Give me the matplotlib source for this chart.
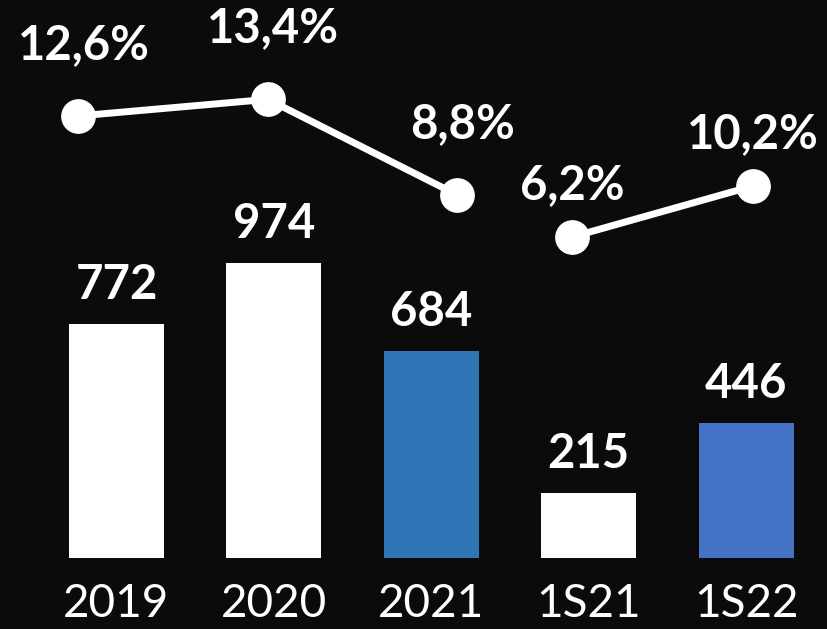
import matplotlib
matplotlib.use("Agg")
import matplotlib.pyplot as plt

# dados do gráfico
categorias = ["2019", "2020", "2021", "1S21", "1S22"]
valores = [772, 974, 684, 215, 446]
cores = ["#ffffff", "#ffffff", "#2e75b6", "#ffffff", "#4472c4"]

margem_anual = [12.6, 13.4, 8.8]       # 2019, 2020, 2021
margem_semestral = [6.2, 10.2]         # 1S21, 1S22

fundo = "#0b0b0b"
fonte = ["Lato", "DejaVu Sans"]
fig = plt.figure(figsize=(8.27, 6.29), dpi=100, facecolor=fundo)

# barras
ax = fig.add_axes([0, 71 / 629, 1, 558 / 629])
ax.set_facecolor(fundo)
x = list(range(len(categorias)))
ax.bar(x, valores, width=0.604, color=cores)
ax.set_xlim(-0.740, 4.514)
ax.set_ylim(0, 558 / 0.303)
for xi, v in zip(x, valores):
    ax.annotate(str(v), (xi, v), xytext=(0, 12), textcoords="offset points",
                ha="center", va="bottom", color="white", fontsize=34,
                fontweight="bold", family=fonte)
ax.set_xticks(x)
ax.set_xticklabels(categorias, fontsize=33, color="white",
                   family=fonte, fontweight="normal")
ax.tick_params(axis="x", length=0, pad=18)
ax.set_yticks([])
for s in ax.spines.values():
    s.set_visible(False)


def linha(valores_linha, xlim, ylim, dx, dy):
    a = fig.add_axes([0, 0, 1, 1])
    a.patch.set_visible(False)
    a.axis("off")
    xs = list(range(len(valores_linha)))
    a.plot(xs, valores_linha, color="white", lw=5, marker="o",
           markersize=24, markerfacecolor="white", markeredgecolor="white",
           solid_capstyle="round")
    a.set_xlim(*xlim)
    a.set_ylim(*ylim)
    for xi, v in zip(xs, valores_linha):
        txt = f"{v:.1f}%".replace(".", ",")
        a.annotate(txt, (xi, v), xytext=(dx, dy), textcoords="offset points",
                   ha="center", va="center", color="white", fontsize=34,
                   fontweight="bold", family=fonte)


linha(margem_anual, (-0.413, 3.951), (-12.09, 18.18), 4, 51)
linha(margem_semestral, (-3.160, 1.409), (-24.55, 24.79), 0, 37)

fig.savefig("out.png", dpi=100, facecolor=fundo)
